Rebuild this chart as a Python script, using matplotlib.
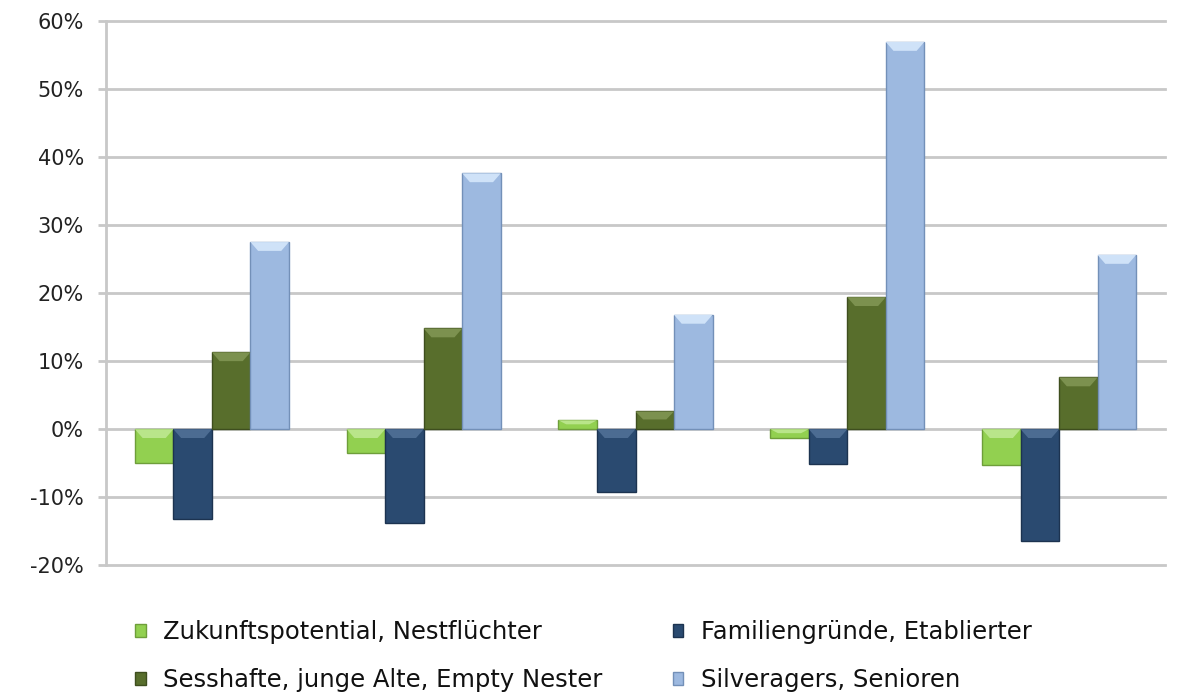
import matplotlib
matplotlib.use('Agg')
import matplotlib.pyplot as plt
from matplotlib.patches import Polygon, Patch
from matplotlib.ticker import FuncFormatter
import numpy as np

#-----DATA---------------------------------------------------------------------#
groups = ['1', '2', '3', '4', '5']
series_names = ['Zukunftspotential, Nestflüchter',
                'Familiengründe, Etablierter',
                'Sesshafte, junge Alte, Empty Nester',
                'Silveragers, Senioren']
zukunft = [-5.0, -3.5, 1.3, -1.3, -5.3]
familie = [-13.2, -13.8, -9.2, -5.1, -16.4]
sesshaft = [11.3, 14.8, 2.6, 19.4, 7.6]
silver = [27.5, 37.6, 16.8, 56.9, 25.6]
yticks = [-20, -10, 0, 10, 20, 30, 40, 50, 60]

# body / top-bevel / edge colours per series
body = ['#92D050', '#2A4A70', '#586E2C', '#9DB9E0']
light = ['#B9E58A', '#4C6C92', '#7C914F', '#CFE2F8']
edge = ['#6E9E3A', '#1C3350', '#3E4E1E', '#7390B8']

#-----PLOT---------------------------------------------------------------------#
plt.rcParams['font.family'] = ['DejaVu Sans']
fig = plt.figure(figsize=(11.82, 6.97), dpi=100)
ax = fig.add_axes([0.0897, 0.189, 0.8959, 0.781])

x = np.arange(len(groups))
bw = 1 / 5.5
all_series = [zukunft, familie, sesshaft, silver]

for i, vals in enumerate(all_series):
    offs = (i - 1.5) * bw
    bars = ax.bar(x + offs, vals, width=bw, color=body[i], edgecolor=edge[i],
                  linewidth=1, zorder=3)
    # bevel: lighter trapezoid on the upper end of each bar
    for b in bars:
        bx, by, w, h = b.get_x(), b.get_y(), b.get_width(), b.get_height()
        top = max(by, by + h)
        d = min(1.3, abs(h) * 0.45)
        ins = w * 0.2
        poly = Polygon([(bx, top), (bx + w, top), (bx + w - ins, top - d),
                        (bx + ins, top - d)], closed=True,
                       facecolor=light[i], edgecolor='none', zorder=4)
        ax.add_patch(poly)

ax.set_xlim(-0.5, len(groups) - 0.5)
ax.set_ylim(-20, 60)
ax.set_yticks(yticks)
ax.yaxis.set_major_formatter(FuncFormatter(lambda v, p: '%d%%' % v))
ax.set_xticks([])
ax.grid(axis='y', color='#C8C8C8', linewidth=2, zorder=0)
for gl in ax.get_ygridlines():
    gl.set_clip_on(False)
ax.tick_params(axis='y', length=6, width=2, color='#C8C8C8', labelsize=15,
               labelcolor='#222222', pad=10)
for s in ['top', 'right', 'bottom']:
    ax.spines[s].set_visible(False)
ax.spines['left'].set_color('#C8C8C8')
ax.spines['left'].set_linewidth(2)

handles = [Patch(facecolor=body[i], edgecolor=edge[i]) for i in range(4)]
order = [0, 2, 1, 3]
fig.legend([handles[k] for k in order], [series_names[k] for k in order],
           ncol=2, loc='upper left', bbox_to_anchor=(0.114, 0.11),
           frameon=False, fontsize=17.5, handlelength=0.45, handleheight=0.45,
           handletextpad=0.7, columnspacing=2.9, labelspacing=0.97,
           borderpad=0, borderaxespad=0, labelcolor='#111111')

fig.savefig('out.png', dpi=100)
